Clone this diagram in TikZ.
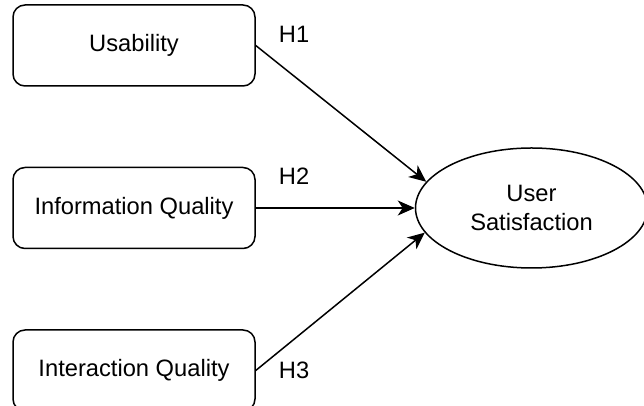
\documentclass[tikz,border=0pt]{standalone}
\usepackage{fontspec}
\setmainfont{Liberation Sans}
\usetikzlibrary{positioning,arrows.meta,shapes.geometric}

\begin{document}
\begin{tikzpicture}[
    x=1pt, y=1pt,
    node distance=80pt,
    factor/.style={rectangle, draw, rounded corners=12pt, line width=1.5pt, minimum width=242pt, minimum height=81pt, align=center, font=\fontsize{23.7}{29}\selectfont},
    outcome/.style={ellipse, draw, line width=1.5pt, minimum width=232pt, minimum height=120pt, inner sep=0pt, align=center, font=\fontsize{23.7}{29}\selectfont},
    hyp/.style={inner sep=0pt, font=\fontsize{23.7}{29}\selectfont},
    arrow/.style={-{Stealth[length=17pt, width=15pt, inset=5pt]}, line width=1.5pt}
]
    \useasboundingbox (0,0) rectangle (644,406);

    \node[factor] (usability) at (134,360.5) {Usability};
    \node[factor, below=of usability] (infoq) {Information Quality};
    \node[factor, below=of infoq] (interq) {Interaction Quality};
    \node[outcome, right=159pt of infoq] (usersat) {User\\Satisfaction};

    \node[hyp, anchor=west] (h1) at ([xshift=23pt, yshift=11pt]usability.east) {H1};
    \node[hyp, anchor=west] (h2) at ([xshift=23pt, yshift=32pt]infoq.east) {H2};
    \node[hyp, anchor=west] (h3) at ([xshift=23pt]interq.east) {H3};

    \draw[arrow] (usability.east) -- (usersat.166);
    \draw[arrow] (infoq) -- (usersat);
    \draw[arrow] (interq.east) -- (usersat.193);
\end{tikzpicture}
\end{document}
